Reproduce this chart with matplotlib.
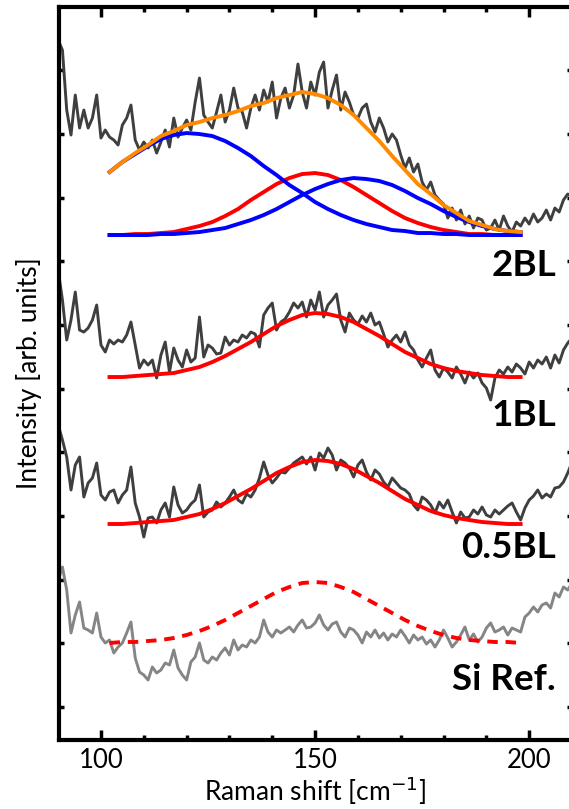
import numpy as np
import matplotlib
matplotlib.use("Agg")
import matplotlib.pyplot as plt
from matplotlib.ticker import MultipleLocator

plt.rcParams['font.family'] = ['Lato', 'DejaVu Sans']

# Raman shift grid of the measured spectra (cm^-1)
shift = np.arange(90, 211, 1)

# measured spectra, intensity in arb. units (stacked offsets included)
bl2 = [700, 690, 630, 605, 645, 612, 630, 612, 622, 645,
       602, 610, 603, 600, 595, 615, 622, 635, 600, 590,
       598, 592, 600, 587, 598, 610, 593, 622, 603, 612,
       620, 610, 638, 662, 625, 618, 612, 628, 645, 618,
       630, 652, 632, 628, 612, 632, 645, 630, 650, 638,
       658, 622, 642, 652, 632, 645, 676, 648, 632, 658,
       645, 668, 678, 632, 650, 665, 630, 648, 638, 625,
       622, 632, 636, 618, 608, 622, 612, 598, 606, 600,
       585, 572, 582, 568, 576, 558, 550, 558, 545, 540,
       536, 522, 532, 520, 530, 516, 524, 512, 522, 520,
       510, 512, 520, 510, 524, 514, 508, 518, 514, 522,
       516, 526, 518, 522, 530, 520, 532, 528, 540, 546,
       543]
bl1 = [470, 440, 400, 420, 448, 410, 408, 412, 420, 435,
       395, 388, 400, 396, 400, 398, 405, 418, 395, 372,
       380, 375, 380, 362, 385, 398, 368, 392, 380, 373,
       390, 378, 382, 423, 383, 395, 392, 386, 387, 403,
       395, 400, 398, 405, 402, 408, 406, 393, 425, 432,
       437, 410, 418, 421, 428, 437, 432, 438, 423, 440,
       430, 448, 423, 435, 440, 446, 420, 408, 427, 420,
       416, 424, 418, 427, 415, 418, 406, 393, 400, 405,
       398, 408, 395, 390, 380, 373, 382, 390, 370, 363,
       372, 368, 362, 373, 366, 357, 368, 362, 367, 357,
       352, 340, 362, 370, 366, 373, 368, 376, 372, 366,
       378, 372, 380, 376, 383, 372, 385, 377, 390, 397,
       402]
bl05 = [315, 300, 283, 250, 275, 283, 243, 257, 262, 277,
        245, 240, 248, 250, 237, 245, 250, 273, 237, 223,
        203, 222, 223, 217, 230, 237, 223, 253, 235, 227,
        230, 236, 240, 255, 223, 228, 230, 238, 233, 237,
        243, 250, 240, 237, 246, 243, 250, 262, 278, 265,
        257, 262, 268, 267, 272, 277, 280, 283, 276, 283,
        270, 287, 282, 292, 285, 270, 280, 277, 272, 263,
        275, 280, 268, 260, 270, 266, 258, 253, 262, 257,
        252, 250, 246, 235, 230, 243, 240, 235, 227, 238,
        232, 240, 228, 217, 228, 222, 223, 230, 226, 233,
        225, 223, 230, 226, 230, 234, 237, 228, 220, 232,
        240, 244, 250, 242, 246, 243, 252, 253, 258, 267,
        278]
si_ref = [160, 173, 150, 107, 125, 138, 112, 110, 107, 127,
          103, 97, 100, 87, 93, 97, 107, 118, 82, 68,
          65, 60, 73, 67, 70, 77, 75, 90, 72, 65,
          60, 78, 83, 97, 80, 77, 83, 80, 87, 92,
          85, 100, 90, 95, 93, 100, 97, 103, 120, 108,
          103, 110, 107, 110, 113, 108, 115, 120, 112, 113,
          117, 125, 115, 110, 116, 118, 108, 103, 112, 110,
          105, 97, 108, 103, 110, 102, 107, 100, 106, 103,
          110, 104, 97, 105, 100, 103, 96, 100, 93, 100,
          110, 102, 93, 98, 105, 113, 100, 106, 98, 103,
          112, 117, 108, 110, 113, 105, 112, 110, 108, 123,
          127, 133, 128, 135, 137, 132, 147, 143, 153, 150,
          157]

# fitted curves, read every 3 cm^-1
fit_shift = np.arange(102, 199, 3)
bl2_peak1 = [568, 578, 586, 594, 601, 605, 607, 606, 604, 599, 592,
             584, 574, 565, 555, 547, 538, 531, 525, 520, 516, 513,
             510, 509, 507, 507, 506, 506, 505, 505, 505, 505, 505]
bl2_peak2 = [505, 505, 506, 506, 507, 508, 511, 514, 518, 524, 531,
             540, 548, 556, 562, 566, 567, 565, 560, 553, 545, 537,
             529, 522, 517, 513, 510, 508, 506, 506, 505, 505, 505]
bl2_peak3 = [505, 505, 505, 505, 506, 506, 507, 508, 510, 512, 516,
             520, 525, 531, 538, 545, 551, 556, 560, 562, 561, 559,
             555, 549, 542, 536, 529, 523, 518, 514, 511, 509, 508]
bl2_sum = [568, 578, 587, 595, 604, 609, 615, 618, 622, 625, 629,
           634, 637, 642, 645, 648, 646, 642, 635, 625, 612, 599,
           584, 570, 556, 546, 535, 527, 519, 515, 511, 509, 508]
bl1_fit = [363, 363, 364, 365, 366, 367, 370, 373, 378, 384, 391,
           398, 406, 414, 420, 425, 427, 426, 423, 418, 411, 404,
           396, 388, 382, 376, 372, 369, 367, 365, 364, 363, 363]
bl05_fit = [216, 216, 217, 218, 219, 220, 223, 226, 231, 237, 244,
            251, 259, 267, 273, 278, 280, 279, 276, 271, 264, 257,
            249, 241, 235, 229, 225, 222, 220, 218, 217, 216, 216]
si_fit = [97, 98, 98, 99, 100, 102, 105, 109, 114, 120, 127,
          134, 141, 148, 153, 157, 158, 157, 153, 148, 141, 134,
          127, 120, 114, 109, 105, 102, 100, 99, 98, 98, 97]

labels = ['2BL', '1BL', '0.5BL', 'Si Ref.']
label_y = [475, 325, 193, 60]
ytick_pos = [33, 97, 160, 224, 288, 351, 415, 479, 542, 606, 670]

fig = plt.figure(figsize=(5.69, 8.09), dpi=100)
ax = fig.add_axes([0.1037, 0.0853, 0.9016, 0.906])

dark = '#3f3f3f'
ax.plot(shift, bl2, color=dark, lw=2.1)
ax.plot(shift, bl1, color=dark, lw=2.1)
ax.plot(shift, bl05, color=dark, lw=2.1)
ax.plot(shift, si_ref, color='#858585', lw=2.1)

ax.plot(fit_shift, bl2_peak2, color='#ff0000', lw=2.8)
ax.plot(fit_shift, bl2_peak1, color='#0000ff', lw=2.8)
ax.plot(fit_shift, bl2_peak3, color='#0000ff', lw=2.8)
ax.plot(fit_shift, bl2_sum, color='#ff8a00', lw=2.8)
ax.plot(fit_shift, bl1_fit, color='#ff0000', lw=2.8)
ax.plot(fit_shift, bl05_fit, color='#ff0000', lw=2.8)
ax.plot(fit_shift, si_fit, color='#ff0000', lw=2.8, dashes=(2.7, 2))

for lab, yy in zip(labels, label_y):
    ax.text(206.3, yy, lab, ha='right', va='center', fontsize=26.5,
            fontweight='bold', color='black')

ax.set_xlim(90.2, 210)
ax.set_ylim(0, 733)
ax.xaxis.set_major_locator(MultipleLocator(50))
ax.xaxis.set_minor_locator(MultipleLocator(10))
ax.set_yticks(ytick_pos)
ax.set_yticklabels([])

for sp in ax.spines.values():
    sp.set_linewidth(3)
ax.tick_params(axis='x', which='major', direction='in', length=7, width=2.5,
               top=True, labelsize=18.5, pad=6)
ax.tick_params(axis='x', which='minor', direction='in', length=3.5, width=2.5,
               top=True)
ax.tick_params(axis='y', which='major', direction='in', length=3.5, width=2.5,
               right=True)

ax.set_xlabel('Raman shift [cm$^{-1}$]', fontsize=19, labelpad=1)
ax.set_ylabel('Intensity [arb. units]', fontsize=19, labelpad=9)

fig.savefig('out.png', dpi=100)
